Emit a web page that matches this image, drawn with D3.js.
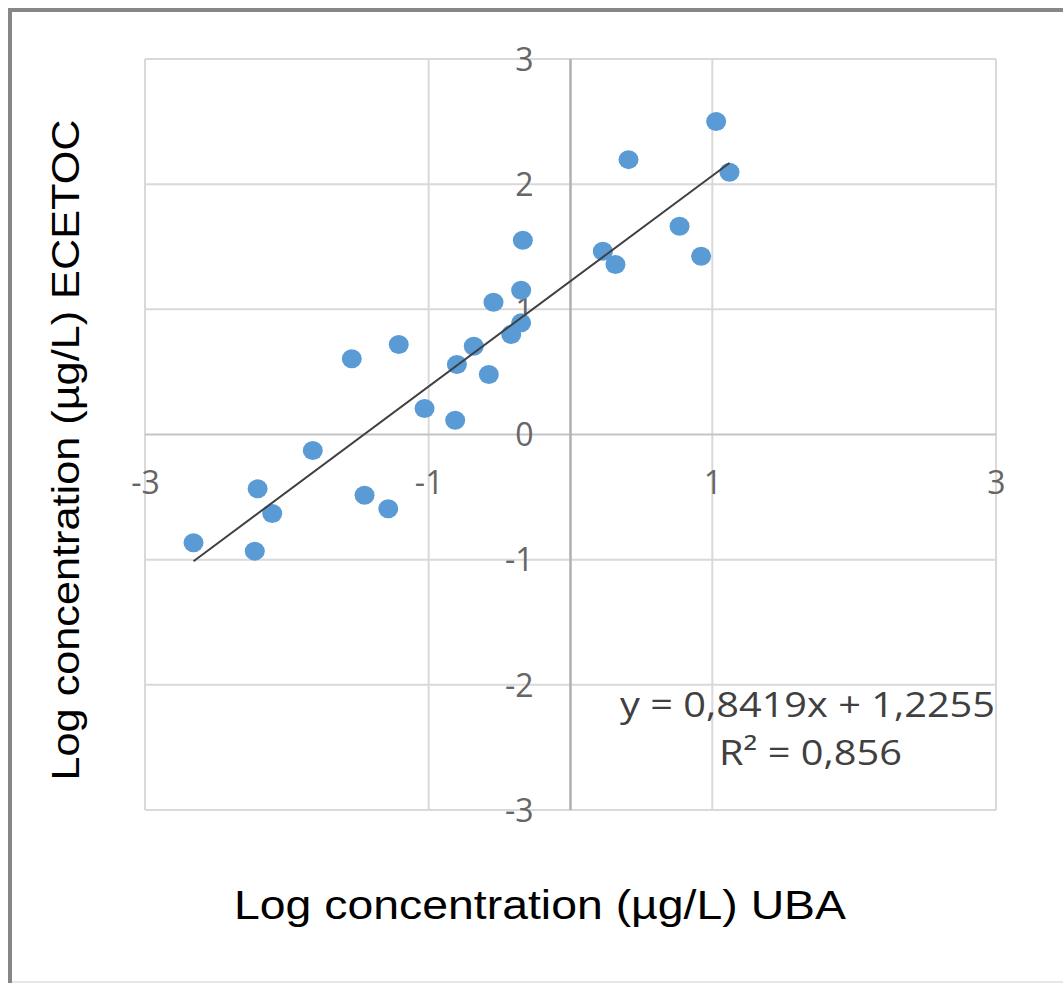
<!DOCTYPE html>
<html>
<head>
<meta charset="utf-8">
<script src="https://cdn.jsdelivr.net/npm/d3@7"></script>
<style>
  body { margin: 0; background: #fff; }
</style>
</head>
<body>
<script>
const width = 1063, height = 983;

// data (log UBA, log ECETOC)
const ubaValues = [-0.336, -0.348, -0.543, -0.348, -0.418, -0.682, -0.801, -0.576, -1.211, -1.542,
    -1.029, -0.813, -1.817, -2.206, -2.103, -2.658, -2.226, -1.452, -1.285,
    1.027, 0.409, 1.121, 0.769, 0.228, 0.317, 0.921];
const ecetocValues = [1.552, 1.153, 1.057, 0.892, 0.799, 0.705, 0.559, 0.479, 0.719, 0.605,
    0.208, 0.114, -0.128, -0.434, -0.631, -0.865, -0.932, -0.485, -0.593,
    2.500, 2.196, 2.095, 1.664, 1.464, 1.358, 1.424];
const slope = 0.8419, intercept = 1.2255;
const equationText = "y = 0,8419x + 1,2255";
const r2Text = "R\u00B2 = 0,856";
const xTicks = [-3, -1, 1, 3];
const yTicks = [-3, -2, -1, 0, 1, 2, 3];
const xTitle = "Log concentration (\u00B5g/L) UBA";
const yTitle = "Log concentration (\u00B5g/L) ECETOC";

const data = ubaValues.map((d, i) => ({x: d, y: ecetocValues[i]}));

const svg = d3.select("body")
    .append("svg")
    .attr("width", width)
    .attr("height", height);

// outer frame
svg.append("line").attr("x1", 8).attr("x2", width).attr("y1", 10).attr("y2", 10)
    .attr("stroke", "#878787").attr("stroke-width", 4);
svg.append("line").attr("x1", 10).attr("x2", 10).attr("y1", 8).attr("y2", height)
    .attr("stroke", "#878787").attr("stroke-width", 4);
svg.append("line").attr("x1", 12).attr("x2", width).attr("y1", 982).attr("y2", 982)
    .attr("stroke", "#e6e6e6").attr("stroke-width", 2);

const x = d3.scaleLinear().domain([-3, 3]).range([145, 996]);
const y = d3.scaleLinear().domain([-3, 3]).range([810, 59]);

// gridlines
svg.append("g").selectAll("line")
    .data(yTicks.filter(d => d !== 0))
    .enter().append("line")
    .attr("x1", x(-3)).attr("x2", x(3))
    .attr("y1", d => y(d)).attr("y2", d => y(d))
    .attr("stroke", "#d9d9d9").attr("stroke-width", 2);
svg.append("g").selectAll("line")
    .data(xTicks)
    .enter().append("line")
    .attr("x1", d => x(d)).attr("x2", d => x(d))
    .attr("y1", y(3)).attr("y2", y(-3))
    .attr("stroke", "#d9d9d9").attr("stroke-width", 2);

// axis lines through the origin
svg.append("line")
    .attr("x1", x(-3)).attr("x2", x(3)).attr("y1", y(0)).attr("y2", y(0))
    .attr("stroke", "#c4c4c4").attr("stroke-width", 2.2);
svg.append("line")
    .attr("x1", x(0)).attr("x2", x(0)).attr("y1", y(3)).attr("y2", y(-3))
    .attr("stroke", "#b0b0b0").attr("stroke-width", 2.5);

// tick labels
const xAxis = svg.append("g")
    .attr("transform", `translate(0,${y(0)})`)
    .call(d3.axisBottom(x).tickValues(xTicks).tickSize(0).tickPadding(37)
        .tickFormat(d => d < 0 ? "-" + Math.abs(d) : d));
const yAxis = svg.append("g")
    .attr("transform", `translate(${x(0)},0)`)
    .call(d3.axisLeft(y).tickValues(yTicks).tickSize(0).tickPadding(37)
        .tickFormat(d => d < 0 ? "-" + Math.abs(d) : d));
[xAxis, yAxis].forEach(g => {
    g.select(".domain").remove();
    g.selectAll("text")
        .attr("font-family", "'Open Sans', sans-serif")
        .attr("font-size", 32)
        .attr("fill", "#666");
});
yAxis.selectAll("text").attr("dy", "0.35em");

// points
svg.append("g").selectAll("ellipse")
    .data(data)
    .enter().append("ellipse")
    .attr("cx", d => x(d.x))
    .attr("cy", d => y(d.y))
    .attr("rx", 10)
    .attr("ry", 9.5)
    .attr("fill", "#5b9bd5");

// linear trendline over the data extent
const [xMin, xMax] = d3.extent(ubaValues);
svg.append("line")
    .attr("x1", x(xMin)).attr("y1", y(slope * xMin + intercept))
    .attr("x2", x(xMax)).attr("y2", y(slope * xMax + intercept))
    .attr("stroke", "#404040").attr("stroke-width", 2);

// equation
svg.append("text")
    .attr("x", 620).attr("y", 717)
    .attr("font-family", "'Open Sans', sans-serif")
    .attr("font-size", 35)
    .attr("fill", "#404040")
    .attr("textLength", 375)
    .attr("lengthAdjust", "spacingAndGlyphs")
    .text(equationText);
svg.append("text")
    .attr("x", 719).attr("y", 765)
    .attr("font-family", "'Open Sans', sans-serif")
    .attr("font-size", 35)
    .attr("fill", "#404040")
    .attr("textLength", 183)
    .attr("lengthAdjust", "spacingAndGlyphs")
    .text(r2Text);

// axis titles
svg.append("text")
    .attr("x", 540).attr("y", 919)
    .attr("text-anchor", "middle")
    .attr("font-family", "'Liberation Sans', Arial, sans-serif")
    .attr("font-size", 41)
    .attr("fill", "#000")
    .attr("textLength", 612)
    .attr("lengthAdjust", "spacingAndGlyphs")
    .text(xTitle);
svg.append("text")
    .attr("transform", "translate(79,450) rotate(-90)")
    .attr("text-anchor", "middle")
    .attr("font-family", "'Liberation Sans', Arial, sans-serif")
    .attr("font-size", 39)
    .attr("fill", "#000")
    .attr("textLength", 661)
    .attr("lengthAdjust", "spacingAndGlyphs")
    .text(yTitle);
</script>
</body>
</html>
